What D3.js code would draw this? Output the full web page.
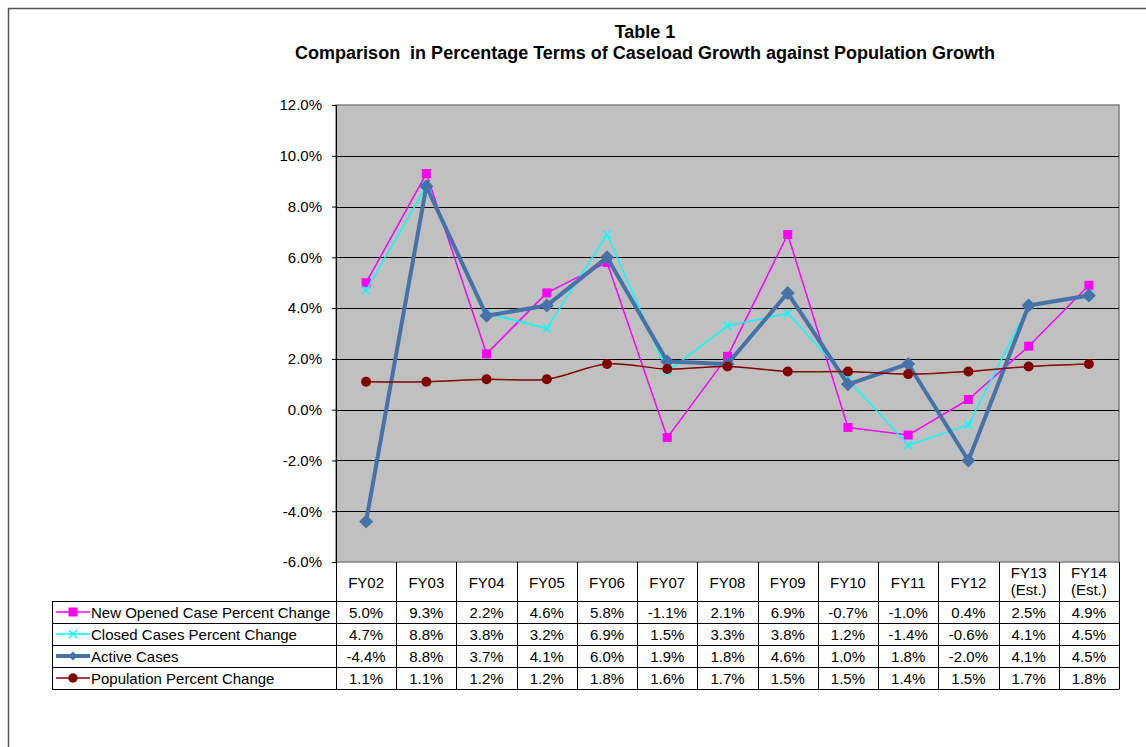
<!DOCTYPE html>
<html>
<head>
<meta charset="utf-8">
<script src="https://cdn.jsdelivr.net/npm/d3@7"></script>
<style>
  body { margin: 0; background: #fff; }
  svg { font-family: Arial, "Liberation Sans", sans-serif; }
</style>
</head>
<body>
<svg width="1146" height="747"></svg>
<script>
// data
const years = ["FY02", "FY03", "FY04", "FY05", "FY06", "FY07", "FY08", "FY09", "FY10", "FY11", "FY12", "FY13\n(Est.)", "FY14\n(Est.)"];
const newOpened = [5.0, 9.3, 2.2, 4.6, 5.8, -1.1, 2.1, 6.9, -0.7, -1.0, 0.4, 2.5, 4.9];
const closedCases = [4.7, 8.8, 3.8, 3.2, 6.9, 1.5, 3.3, 3.8, 1.2, -1.4, -0.6, 4.1, 4.5];
const activeCases = [-4.4, 8.8, 3.7, 4.1, 6.0, 1.9, 1.8, 4.6, 1.0, 1.8, -2.0, 4.1, 4.5];
const population = [1.1, 1.1, 1.2, 1.2, 1.8, 1.6, 1.7, 1.5, 1.5, 1.4, 1.5, 1.7, 1.8];
const yTicks = [-6, -4, -2, 0, 2, 4, 6, 8, 10, 12];

const series = [
  {name: "New Opened Case Percent Change", values: newOpened, color: "#ff00ff", width: 1.5, marker: "square"},
  {name: "Closed Cases Percent Change", values: closedCases, color: "#00ffff", width: 1.5, marker: "cross"},
  {name: "Active Cases", values: activeCases, color: "#4572a7", width: 4, marker: "diamond"},
  {name: "Population Percent Change", values: population, color: "#800000", width: 1.5, marker: "circle"}
];

const svg = d3.select("svg");
const plotLeft = 336, plotRight = 1119, plotTop = 105, plotBottom = 562;
const rowH = 22, headH = 39, legendLeft = 52;

// outer frame
svg.append("rect")
    .attr("x", 8.5).attr("y", 8.5)
    .attr("width", 1160).attr("height", 760)
    .attr("fill", "none").attr("stroke", "#555").attr("stroke-width", 1.5);

// title
svg.append("text")
    .attr("x", 645).attr("y", 38)
    .attr("text-anchor", "middle")
    .style("font-size", "18px").style("font-weight", "bold")
    .text("Table 1");
svg.append("text")
    .attr("x", 645).attr("y", 59)
    .attr("text-anchor", "middle")
    .style("font-size", "18px").style("font-weight", "bold")
    .style("white-space", "pre")
    .text("Comparison  in Percentage Terms of Caseload Growth against Population Growth");

const x = d3.scaleBand().domain(years).range([plotLeft, plotRight]);
const y = d3.scaleLinear().domain([-6, 12]).range([plotBottom, plotTop]);

// plot area
svg.append("rect")
    .attr("x", plotLeft).attr("y", plotTop)
    .attr("width", plotRight - plotLeft).attr("height", plotBottom - plotTop)
    .attr("fill", "#c0c0c0")
    .attr("stroke", "#808080").attr("stroke-width", 1.5);

// gridlines
svg.append("g")
    .selectAll("line")
    .data(yTicks.filter(d => d > -6 && d < 12))
    .enter().append("line")
    .attr("x1", plotLeft).attr("x2", plotRight)
    .attr("y1", d => Math.round(y(d)) + 0.5)
    .attr("y2", d => Math.round(y(d)) + 0.5)
    .attr("stroke", "#000").attr("stroke-width", 1);

// y axis
const yAxis = svg.append("g")
    .attr("transform", `translate(${plotLeft},0)`)
    .call(d3.axisLeft(y).tickValues(yTicks).tickSize(4).tickPadding(10)
        .tickFormat(d => d.toFixed(1) + "%"));
yAxis.select(".domain").attr("stroke", "#000");
yAxis.selectAll("text").style("font-size", "15px").style("font-family", "Arial, 'Liberation Sans', sans-serif").attr("fill", "#000");

// markers
function drawMarker(sel, type, color) {
  if (type === "square") {
    sel.append("rect").attr("x", -4.5).attr("y", -4.5).attr("width", 9).attr("height", 9).attr("fill", color);
  } else if (type === "cross") {
    sel.append("path").attr("d", "M-4,-4L4,4M-4,4L4,-4").attr("stroke", color).attr("stroke-width", 1.5).attr("fill", "none");
  } else if (type === "diamond") {
    sel.append("path").attr("d", "M0,-7L7,0L0,7L-7,0Z").attr("fill", color);
  } else {
    sel.append("circle").attr("r", 5).attr("fill", color);
  }
}

const cx = d => x(d) + x.bandwidth() / 2;

series.forEach(s => {
  const line = d3.line()
      .x((v, i) => cx(years[i]))
      .y(v => y(v))
      .curve(s.marker === "circle" ? d3.curveCatmullRom : d3.curveLinear);
  svg.append("path")
      .datum(s.values)
      .attr("d", line)
      .attr("fill", "none")
      .attr("stroke", s.color)
      .attr("stroke-width", s.width)
      .attr("stroke-linejoin", "round");
  svg.append("g")
      .selectAll("g")
      .data(s.values)
      .enter().append("g")
      .attr("transform", (v, i) => `translate(${cx(years[i])},${y(v)})`)
      .each(function() { drawMarker(d3.select(this), s.marker, s.color); });
});

// data table
const table = svg.append("g").style("font-size", "15px");
const tBottom = plotBottom + headH + rowH * series.length;

// vertical lines between columns
table.selectAll("line.col")
    .data(years.concat(["end"]))
    .enter().append("line")
    .attr("x1", (d, i) => Math.round(plotLeft + i * x.bandwidth()) + 0.5)
    .attr("x2", (d, i) => Math.round(plotLeft + i * x.bandwidth()) + 0.5)
    .attr("y1", plotBottom).attr("y2", tBottom)
    .attr("stroke", "#000");
table.append("line")
    .attr("x1", legendLeft + 0.5).attr("x2", legendLeft + 0.5)
    .attr("y1", plotBottom + headH).attr("y2", tBottom)
    .attr("stroke", "#000");

// horizontal lines
d3.range(series.length + 1).forEach(r => {
  const yy = plotBottom + headH + r * rowH + 0.5;
  table.append("line")
      .attr("x1", legendLeft).attr("x2", plotRight + 0.5)
      .attr("y1", yy).attr("y2", yy)
      .attr("stroke", "#000");
});

// header labels
years.forEach(yr => {
  const parts = yr.split("\n");
  const t = table.append("text")
      .attr("x", cx(yr))
      .attr("text-anchor", "middle");
  if (parts.length === 1) {
    t.attr("y", plotBottom + 26).text(parts[0]);
  } else {
    t.append("tspan").attr("x", cx(yr)).attr("y", plotBottom + 16).text(parts[0]);
    t.append("tspan").attr("x", cx(yr)).attr("y", plotBottom + 33).text(parts[1]);
  }
});

// rows
series.forEach((s, r) => {
  const rowY = plotBottom + headH + r * rowH;
  const mid = rowY + rowH / 2;
  const key = table.append("g").attr("transform", `translate(0,${mid})`);
  key.append("line")
      .attr("x1", 56).attr("x2", 90)
      .attr("stroke", s.color).attr("stroke-width", s.width);
  const mk = key.append("g").attr("transform", "translate(73,0)");
  drawMarker(mk, s.marker, s.color);
  if (s.marker === "diamond") mk.attr("transform", "translate(73,0) scale(0.65)");
  if (s.marker === "circle") mk.attr("transform", "translate(73,0) scale(0.95)");
  table.append("text")
      .attr("x", 91).attr("y", mid + 5.5)
      .text(s.name);
  s.values.forEach((v, i) => {
    table.append("text")
        .attr("x", cx(years[i])).attr("y", mid + 5.5)
        .attr("text-anchor", "middle")
        .text(v.toFixed(1) + "%");
  });
});
</script>
</body>
</html>
